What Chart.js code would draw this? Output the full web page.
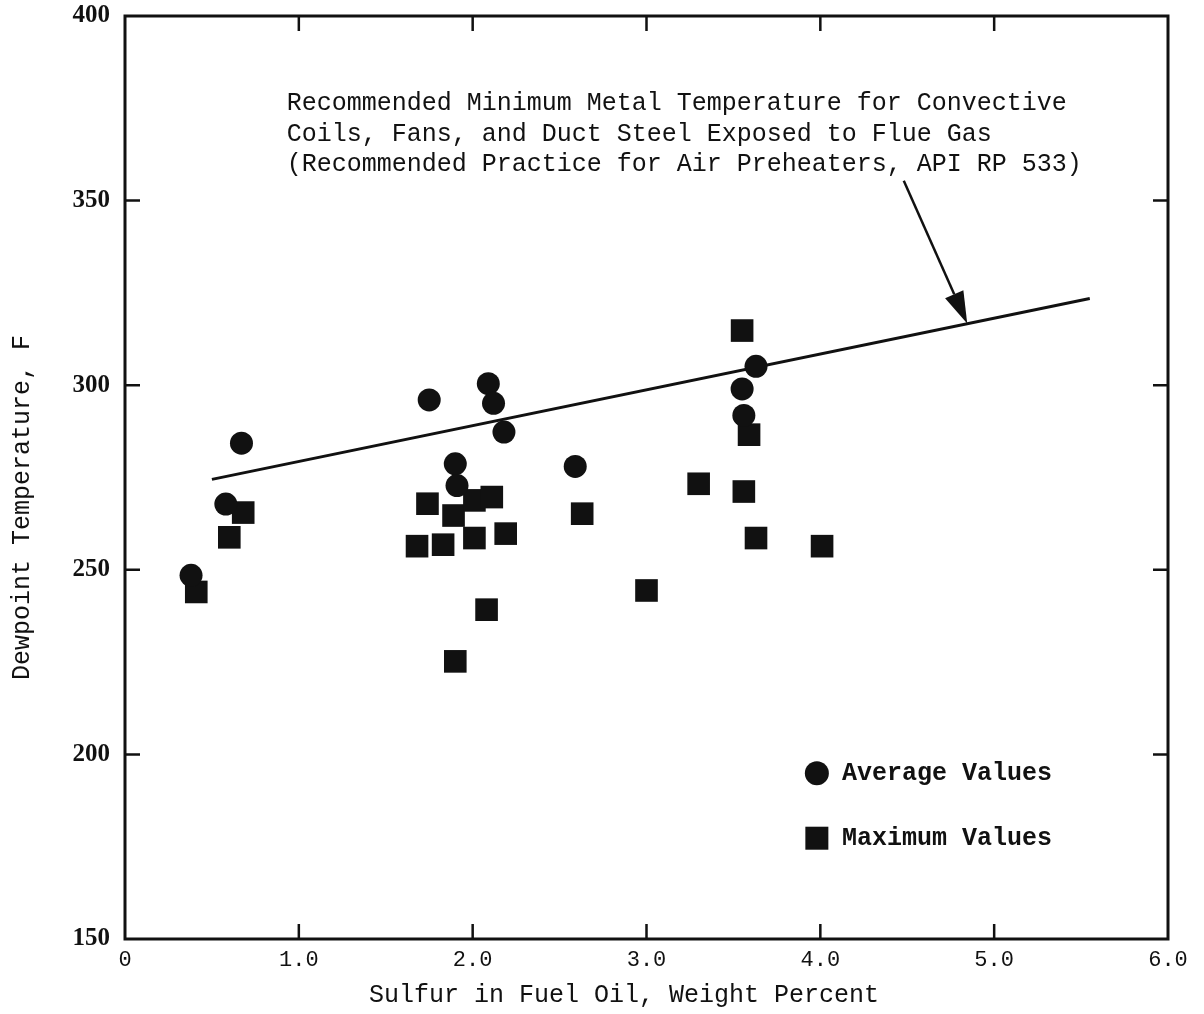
<!DOCTYPE html>
<html>
<head>
<meta charset="utf-8">
<script src="https://cdn.jsdelivr.net/npm/chart.js@4/dist/chart.umd.min.js"></script>
<style>
  html, body { margin: 0; padding: 0; background: #fff; }
</style>
</head>
<body>
<canvas id="dewChart" width="1204" height="1014"></canvas>
<script>
// average values (circles)
const avgX = [0.38, 0.58, 0.67, 1.75, 2.09, 2.12, 2.18, 1.90, 1.91, 2.59, 3.63, 3.55, 3.56];
const avgY = [248.5, 267.8, 284.3, 296.0, 300.4, 295.1, 287.3, 278.7, 272.8, 278.0, 305.1, 299.0, 291.8];

// maximum values (squares)
const maxX = [0.41, 0.60, 0.68, 1.68, 1.74, 1.83, 1.89, 1.90, 2.01, 2.01, 2.11, 2.08, 2.19, 2.63, 3.00, 3.30, 3.55, 3.59, 3.56, 3.63, 4.01];
const maxY = [244.0, 258.8, 265.5, 256.4, 267.9, 256.8, 264.7, 225.2, 258.6, 268.8, 269.7, 239.2, 259.8, 265.2, 244.4, 273.3, 314.8, 286.6, 271.2, 258.6, 256.4];

// recommended minimum metal temperature line
const lineX = [0.5, 5.55];
const lineY = [274.5, 323.5];

const xTicks = [0, 1, 2, 3, 4, 5, 6];
const yTicks = [150, 200, 250, 300, 350, 400];

const noteLines = [
  "Recommended Minimum Metal Temperature for Convective",
  "Coils, Fans, and Duct Steel Exposed to Flue Gas",
  "(Recommended Practice for Air Preheaters, API RP 533)"
];

const ink = "#111";
const mono = "'Liberation Mono', 'DejaVu Sans Mono', monospace";

const toPts = (xs, ys) => xs.map((v, i) => ({ x: v, y: ys[i] }));

// frame, inward ticks, note with arrow, legend
const extras = {
  id: "extras",
  afterDraw(chart) {
    const { ctx, chartArea: a } = chart;
    const x = chart.scales.x, y = chart.scales.y;
    ctx.save();
    ctx.strokeStyle = ink;
    ctx.fillStyle = ink;
    ctx.lineWidth = 3;
    ctx.strokeRect(a.left, a.top, a.right - a.left, a.bottom - a.top);

    ctx.lineWidth = 2.5;
    ctx.beginPath();
    xTicks.slice(1, -1).forEach(v => {
      const px = x.getPixelForValue(v);
      ctx.moveTo(px, a.bottom); ctx.lineTo(px, a.bottom - 15);
      ctx.moveTo(px, a.top); ctx.lineTo(px, a.top + 15);
    });
    yTicks.slice(1, -1).forEach(v => {
      const py = y.getPixelForValue(v);
      ctx.moveTo(a.left, py); ctx.lineTo(a.left + 15, py);
      ctx.moveTo(a.right, py); ctx.lineTo(a.right - 15, py);
    });
    ctx.stroke();

    // note text
    ctx.font = "25px " + mono;
    ctx.textBaseline = "middle";
    ctx.textAlign = "left";
    const nx = x.getPixelForValue(0.93);
    const ny = y.getPixelForValue(376.2);
    noteLines.forEach((t, i) => ctx.fillText(t, nx, ny + i * 30.5));

    // arrow
    const x0 = x.getPixelForValue(4.48), y0 = y.getPixelForValue(355.4);
    const x1 = x.getPixelForValue(4.845), y1 = y.getPixelForValue(316.7);
    const ang = Math.atan2(y1 - y0, x1 - x0);
    const hl = 32, hw = 10;
    const bx = x1 - hl * Math.cos(ang), by = y1 - hl * Math.sin(ang);
    ctx.lineWidth = 2.5;
    ctx.beginPath();
    ctx.moveTo(x0, y0); ctx.lineTo(bx, by);
    ctx.stroke();
    ctx.beginPath();
    ctx.moveTo(x1, y1);
    ctx.lineTo(bx + hw * Math.sin(ang), by - hw * Math.cos(ang));
    ctx.lineTo(bx - hw * Math.sin(ang), by + hw * Math.cos(ang));
    ctx.closePath();
    ctx.fill();

    // legend
    const lx = x.getPixelForValue(3.98);
    const ly1 = y.getPixelForValue(194.9);
    const ly2 = y.getPixelForValue(177.3);
    ctx.beginPath();
    ctx.arc(lx, ly1, 12, 0, Math.PI * 2);
    ctx.fill();
    ctx.fillRect(lx - 11.5, ly2 - 11.5, 23, 23);
    ctx.font = "bold 25px " + mono;
    const tx = x.getPixelForValue(4.125);
    ctx.fillText("Average Values", tx, ly1);
    ctx.fillText("Maximum Values", tx, ly2);
    ctx.restore();
  }
};

const config = {
  type: "scatter",
  data: {
    datasets: [
      {
        label: "Average Values",
        data: toPts(avgX, avgY),
        pointStyle: "circle",
        pointRadius: 11.5,
        pointHoverRadius: 11.5,
        pointBorderWidth: 0,
        backgroundColor: ink,
        borderColor: ink
      },
      {
        label: "Maximum Values",
        data: toPts(maxX, maxY),
        pointStyle: "rect",
        pointRadius: 16,
        pointHoverRadius: 16,
        pointBorderWidth: 0,
        backgroundColor: ink,
        borderColor: ink
      },
      {
        type: "line",
        label: "Recommended minimum",
        data: toPts(lineX, lineY),
        borderColor: ink,
        borderWidth: 3,
        pointRadius: 0,
        fill: false
      }
    ]
  },
  options: {
    responsive: false,
    animation: false,
    layout: { padding: { top: 15, right: 36, left: 0, bottom: 0 } },
    plugins: { legend: { display: false }, tooltip: { enabled: false } },
    scales: {
      x: {
        type: "linear",
        min: 0,
        max: 6,
        afterFit: s => { s.height = 75; },
        afterBuildTicks: s => { s.ticks = xTicks.map(v => ({ value: v })); },
        grid: { display: false, drawTicks: false },
        border: { display: false },
        ticks: {
          padding: 8,
          maxRotation: 0,
          color: ink,
          font: { family: mono, size: 22 },
          callback: v => (v === 0 ? "0" : v.toFixed(1))
        },
        title: {
          display: true,
          text: "Sulfur in Fuel Oil, Weight Percent   ",
          color: ink,
          font: { family: mono, size: 25 },
          padding: { top: 0, bottom: 4 }
        }
      },
      y: {
        type: "linear",
        min: 150,
        max: 400,
        afterFit: s => { s.width = 125; s.paddingTop = 0; s.paddingBottom = 0; },
        afterBuildTicks: s => { s.ticks = yTicks.map(v => ({ value: v })); },
        grid: { display: false, drawTicks: false },
        border: { display: false },
        ticks: {
          padding: 15,
          color: ink,
          font: { family: "'Liberation Serif', serif", size: 25, weight: "bold" }
        },
        title: {
          display: true,
          text: "Dewpoint Temperature, F    ",
          color: ink,
          font: { family: mono, size: 25 },
          padding: { top: 7, bottom: 0 }
        }
      }
    }
  },
  plugins: [extras]
};

const dewChart = new Chart(document.getElementById("dewChart"), config);
</script>
</body>
</html>
